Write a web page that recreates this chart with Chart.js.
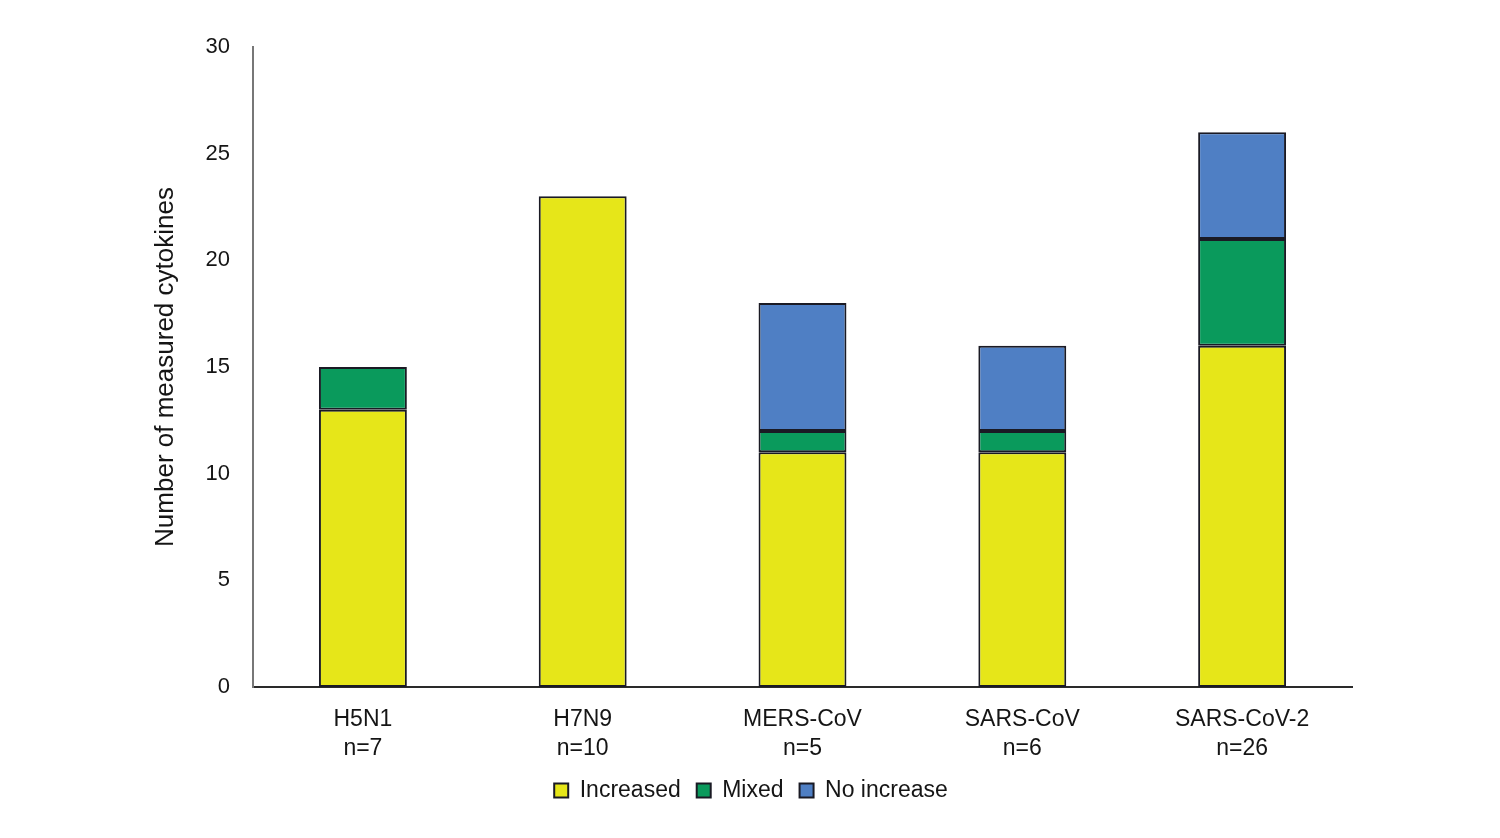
<!DOCTYPE html>
<html>
<head>
<meta charset="utf-8">
<script src="https://cdn.jsdelivr.net/npm/chart.js@4"></script>
<style>
  html, body { margin: 0; padding: 0; background: #fff; }
  #wrap { width: 1500px; height: 838px; }
</style>
</head>
<body>
<div id="wrap"><canvas id="grafico"></canvas></div>
<script>
const virus = [["H5N1", "n=7"], ["H7N9", "n=10"], ["MERS-CoV", "n=5"], ["SARS-CoV", "n=6"], ["SARS-CoV-2", "n=26"]];
const aumentado = [13, 23, 11, 11, 16];
const mixto = [2, null, 1, 1, 5];
const sinAumento = [null, null, 6, 4, 5];
const ticksY = [0, 5, 10, 15, 20, 25, 30];

const fuente = "'Liberation Sans', Arial, Helvetica, sans-serif";
const borde = "#1a1a24";
const texto = "#151515";

function serie(label, data, color) {
  return {
    label,
    data,
    backgroundColor: color,
    borderColor: borde,
    borderWidth: 2,
    borderSkipped: false,
    barPercentage: 0.4,
    categoryPercentage: 1
  };
}

new Chart(document.getElementById("grafico"), {
  type: "bar",
  data: {
    labels: virus,
    datasets: [
      serie("Increased", aumentado, "#e6e619"),
      serie("Mixed", mixto, "#0a9a5c"),
      serie("No increase", sinAumento, "#4f7fc4")
    ]
  },
  options: {
    responsive: true,
    maintainAspectRatio: false,
    animation: false,
    layout: { padding: { left: 150, right: 148, top: 47, bottom: 26 } },
    plugins: {
      tooltip: { enabled: false },
      legend: {
        position: "bottom",
        labels: {
          boxWidth: 14,
          boxHeight: 14,
          padding: 16,
          color: texto,
          font: { family: fuente, size: 23 }
        }
      }
    },
    scales: {
      x: {
        stacked: true,
        grid: { display: false },
        border: { color: "#2a2a2a", width: 2 },
        ticks: {
          color: texto,
          padding: 10,
          maxRotation: 0,
          font: { family: fuente, size: 23, lineHeight: 1.26 }
        },
        afterFit: s => { s.height = 76; }
      },
      y: {
        stacked: true,
        min: 0,
        max: 30,
        afterBuildTicks: s => { s.ticks = ticksY.map(v => ({ value: v })); },
        grid: { display: false },
        border: { color: "#777", width: 2 },
        ticks: {
          color: texto,
          padding: 15,
          font: { family: fuente, size: 22 }
        },
        title: {
          display: true,
          text: "Number of measured cytokines",
          color: texto,
          padding: { top: 0, bottom: 0 },
          font: { family: fuente, size: 26 }
        },
        afterFit: s => { s.width = 103; }
      }
    }
  }
});
</script>
</body>
</html>
